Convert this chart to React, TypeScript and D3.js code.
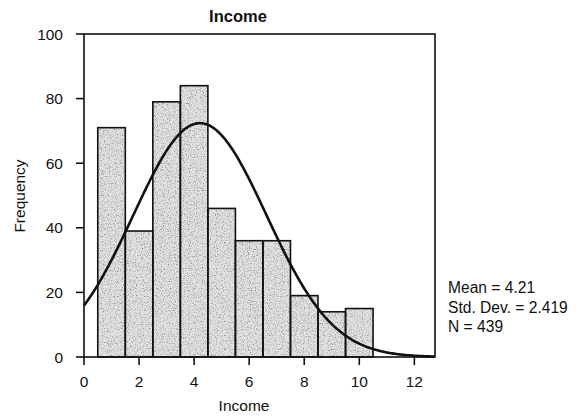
import React from "react";
import * as d3 from "d3";

const binCenters = [1, 2, 3, 4, 5, 6, 7, 8, 9, 10];
const frequencies = [71, 39, 79, 84, 46, 36, 36, 19, 14, 15];
const xTicks = [0, 2, 4, 6, 8, 10, 12];
const yTicks = [0, 20, 40, 60, 80, 100];
const statMean = 4.21;
const statSd = 2.419;
const statN = 439;
const statLines = ["Mean = 4.21", "Std. Dev. = 2.419", "N = 439"];

const W = 577;
const H = 417;
const left = 84;
const right = 435;
const top = 34;
const bottom = 357;

export default function App() {
  const x = d3.scaleLinear().domain([0, 12.75]).range([left, right]);
  const y = d3.scaleLinear().domain([0, 100]).range([bottom, top]);

  const curveXs = d3.range(0, 12.75 + 1e-9, 0.05);
  const normal = (v: number) =>
    (statN * 1) / (statSd * Math.sqrt(2 * Math.PI)) *
    Math.exp(-((v - statMean) ** 2) / (2 * statSd * statSd));
  const line = d3
    .line<number>()
    .x((d) => x(d))
    .y((d) => y(normal(d)))
    .curve(d3.curveBasis);

  const font = "'Liberation Sans', Arial, Helvetica, sans-serif";

  return (
    <svg
      width={W}
      height={H}
      style={{ position: "absolute", left: 0, top: 0, background: "#fff" }}
      fontFamily={font}
    >
      <defs>
        <filter id="grain" x="0" y="0" width="100%" height="100%">
          <feTurbulence type="fractalNoise" baseFrequency="0.85" numOctaves="2" seed="3" result="noise" />
          <feColorMatrix
            in="noise"
            type="matrix"
            values="0 0 0 0 0.15  0 0 0 0 0.15  0 0 0 0 0.15  0 0 0 -2.4 1.25"
            result="dots"
          />
          <feComposite in="dots" in2="SourceGraphic" operator="in" result="clipped" />
          <feMerge>
            <feMergeNode in="SourceGraphic" />
            <feMergeNode in="clipped" />
          </feMerge>
        </filter>
      </defs>

      {/* bars */}
      {binCenters.map((c, i) => (
        <rect
          key={"f" + c}
          x={x(c - 0.5)}
          y={y(frequencies[i])}
          width={x(c + 0.5) - x(c - 0.5)}
          height={y(0) - y(frequencies[i])}
          fill="#e2e2e2"
          filter="url(#grain)"
        />
      ))}
      {binCenters.map((c, i) => (
        <rect
          key={"s" + c}
          x={x(c - 0.5)}
          y={y(frequencies[i])}
          width={x(c + 0.5) - x(c - 0.5)}
          height={y(0) - y(frequencies[i])}
          fill="none"
          stroke="#111"
          strokeWidth={1.6}
        />
      ))}

      {/* normal curve */}
      <path d={line(curveXs) || ""} fill="none" stroke="#111" strokeWidth={2.6} />

      {/* frame */}
      <rect
        x={left}
        y={top}
        width={right - left}
        height={bottom - top}
        fill="none"
        stroke="#111"
        strokeWidth={1.6}
      />

      {/* y ticks */}
      {yTicks.map((t) => (
        <g key={"y" + t}>
          <line x1={left - 8} x2={left} y1={y(t)} y2={y(t)} stroke="#111" strokeWidth={1.6} />
          <text
            x={63}
            y={y(t)}
            dy="0.36em"
            textAnchor="end"
            fontSize={15.5}
            fill="#111"
          >
            {t}
          </text>
        </g>
      ))}

      {/* x ticks */}
      {xTicks.map((t) => (
        <g key={"x" + t}>
          <line x1={x(t)} x2={x(t)} y1={bottom} y2={bottom + 8} stroke="#111" strokeWidth={1.6} />
          <text x={x(t)} y={387} textAnchor="middle" fontSize={15.5} fill="#111">
            {t}
          </text>
        </g>
      ))}

      {/* titles */}
      <text x={238} y={22} textAnchor="middle" fontSize={16.5} fontWeight="bold" fill="#111">
        Income
      </text>
      <text x={244} y={411} textAnchor="middle" fontSize={15.5} fill="#111">
        Income
      </text>
      <text
        transform={`translate(25,196) rotate(-90)`}
        textAnchor="middle"
        fontSize={15.5}
        fill="#111"
      >
        Frequency
      </text>

      {/* stats */}
      {statLines.map((s, i) => (
        <text key={s} x={448} y={293 + i * 19.5} fontSize={15.6} fill="#111">
          {s}
        </text>
      ))}
    </svg>
  );
}
